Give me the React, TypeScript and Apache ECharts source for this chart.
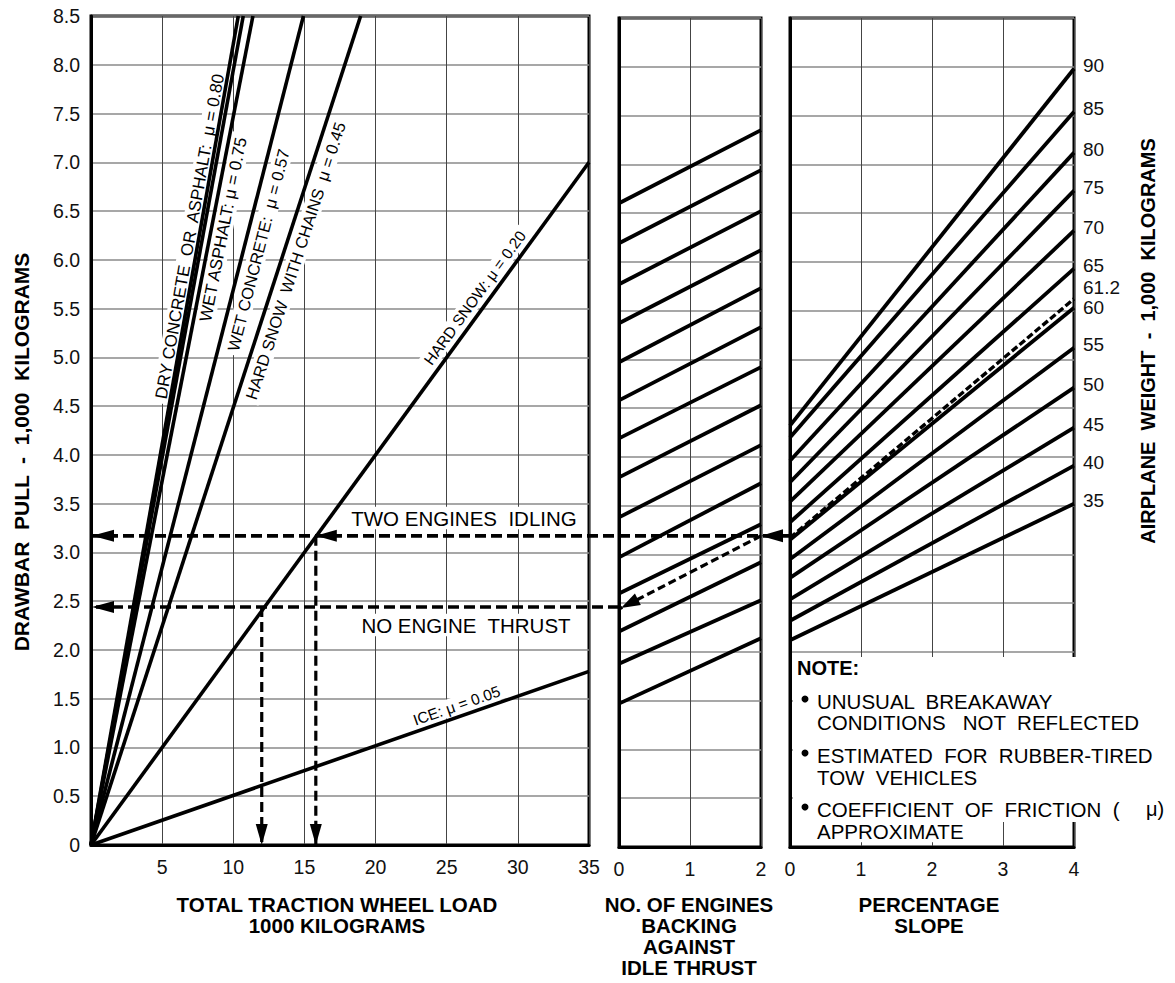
import React, { useEffect, useRef } from "react";
import * as echarts from "echarts";

const FONT = "'Liberation Sans', Arial, Helvetica, sans-serif";

// ---------- Left panel: drawbar pull (1,000 kg) vs total traction wheel load (1,000 kg) ----------
const surfaceNames = [
  "DRY CONCRETE OR ASPHALT: μ = 0.80",
  "DRY CONCRETE OR ASPHALT (edge)",
  "WET ASPHALT: μ = 0.75",
  "WET CONCRETE: μ = 0.57",
  "HARD SNOW WITH CHAINS μ = 0.45",
  "HARD SNOW: μ = 0.20",
  "ICE: μ = 0.05",
];
const surfaceEndLoad = [10.35, 10.7, 11.38, 14.93, 18.95, 35, 35];
const surfaceEndPull = [8.5, 8.5, 8.5, 8.5, 8.5, 7.0, 1.78];

// ---------- Middle panel: number of engines backing against idle thrust ----------
const engineTicks = [0, 1, 2];
const backingStart = [6.6, 6.19, 5.77, 5.37, 4.97, 4.58, 4.19, 3.79, 3.38, 2.97, 2.6, 2.21, 1.88, 1.47];
const backingEnd = [7.35, 6.94, 6.52, 6.12, 5.73, 5.33, 4.92, 4.53, 4.12, 3.73, 3.31, 2.92, 2.53, 2.14];

// ---------- Right panel: percentage slope, airplane weight (1,000 kg) ----------
const weights = [90, 85, 80, 75, 70, 65, 60, 55, 50, 45, 40, 35];
const slopeStart = [4.32, 4.2, 3.96, 3.74, 3.54, 3.33, 3.15, 2.95, 2.76, 2.54, 2.32, 2.12];
const slopeEnd = [7.98, 7.54, 7.12, 6.73, 6.32, 5.93, 5.53, 5.12, 4.71, 4.3, 3.91, 3.52];

// ---------- Worked example ----------
const exampleWeight = 61.2;
const exampleSlopeStart = 3.17;
const exampleSlopeEnd = 5.62;
const idlingPull = 3.17;
const noThrustPull = 2.44;
const idlingLoad = 15.8;
const noThrustLoad = 12.0;

// ---------- Layout (label anchors, in data coordinates of the left panel) ----------
const surfaceLabelText = [
  "DRY CONCRETE  OR  ASPHALT:  μ = 0.80",
  "",
  "WET ASPHALT: μ = 0.75",
  "WET CONCRETE:  μ = 0.57",
  "HARD SNOW  WITH CHAINS  μ = 0.45",
  "HARD SNOW: μ = 0.20",
  "ICE: μ = 0.05",
];
const labelAnchorLoad = [6.95, 0, 9.3, 11.76, 14.37, 26.97, 25.7];
const labelAnchorPull = [6.24, 0, 6.31, 6.1, 5.99, 5.61, 1.43];
const labelSize = [17, 0, 17, 16.5, 16.5, 15.5, 15.5];

export default function App() {
  const ref = useRef<HTMLDivElement>(null);

  useEffect(() => {
    const chart = echarts.init(ref.current!, null, { renderer: "svg" });

    const axisLineStyle = { color: "#000", width: 3 };
    const hSplit = { show: true, lineStyle: { color: "#8a8a8a", width: 1.5 } };
    const vSplit = { show: true, lineStyle: { color: "#444", width: 1 } };
    const tickLabel = { fontSize: 19.5, color: "#111", fontFamily: FONT };

    const gridBoxes = [
      { left: 91, top: 16, width: 498, height: 829 },
      { left: 619, top: 18, width: 142, height: 829 },
      { left: 790, top: 18, width: 284, height: 829 },
    ];
    const grid = gridBoxes.map((g) => ({ ...g, show: true, borderColor: "#000", borderWidth: 3 }));

    const xDefs = [
      { min: 0, max: 35, interval: 5, fmt: (v: number) => (v === 0 ? "" : String(v)) },
      { min: engineTicks[0], max: engineTicks[engineTicks.length - 1], interval: 1, fmt: (v: number) => String(v) },
      { min: 0, max: 4, interval: 1, fmt: (v: number) => String(v) },
    ];
    const xAxis = xDefs.map((a, i) => ({
      type: "value",
      gridIndex: i,
      min: a.min,
      max: a.max,
      interval: a.interval,
      axisLine: { show: true, onZero: false, lineStyle: axisLineStyle },
      axisTick: { show: false },
      splitLine: vSplit,
      axisLabel: { ...tickLabel, margin: 12, formatter: a.fmt, showMinLabel: true, showMaxLabel: true },
    }));
    const yAxis = [0, 1, 2].map((i) => ({
      type: "value",
      gridIndex: i,
      min: 0,
      max: 8.5,
      interval: 0.5,
      axisLine: { show: true, onZero: false, lineStyle: axisLineStyle },
      axisTick: { show: false },
      splitLine: hSplit,
      axisLabel:
        i === 0
          ? { ...tickLabel, margin: 11, formatter: (v: number) => (v === 0 ? "0" : v.toFixed(1)) }
          : { show: false },
    }));

    const series: any[] = [];
    surfaceEndLoad.forEach((x, i) => {
      series.push({
        type: "line",
        name: surfaceNames[i],
        xAxisIndex: 0,
        yAxisIndex: 0,
        data: [
          [0, 0],
          [x, surfaceEndPull[i]],
        ],
        symbol: "none",
        silent: true,
        lineStyle: { color: "#000", width: 3.6 },
      });
    });
    backingStart.forEach((s, i) => {
      series.push({
        type: "line",
        xAxisIndex: 1,
        yAxisIndex: 1,
        data: [
          [0, s],
          [2, backingEnd[i]],
        ],
        symbol: "none",
        silent: true,
        lineStyle: { color: "#000", width: 3.8 },
      });
    });
    weights.forEach((w, i) => {
      series.push({
        type: "line",
        name: String(w),
        xAxisIndex: 2,
        yAxisIndex: 2,
        data: [
          [0, slopeStart[i]],
          [4, slopeEnd[i]],
        ],
        symbol: "none",
        silent: true,
        lineStyle: { color: "#000", width: 3.8 },
        endLabel: {
          show: true,
          formatter: String(w),
          ...tickLabel,
          fontSize: 19,
          distance: 9,
          offset: [0, w === 60 ? 0 : -3],
        },
      });
    });
    series.push({
      type: "line",
      name: String(exampleWeight),
      xAxisIndex: 2,
      yAxisIndex: 2,
      data: [
        [0, exampleSlopeStart],
        [4, exampleSlopeEnd],
      ],
      symbol: "none",
      silent: true,
      z: 3,
      lineStyle: { color: "#000", width: 3.4, type: [7, 3] },
      endLabel: { show: true, formatter: String(exampleWeight), ...tickLabel, fontSize: 19, distance: 9, offset: [0, -11] },
    });

    chart.setOption({
      animation: false,
      backgroundColor: "#fff",
      grid,
      xAxis,
      yAxis,
      series,
    });

    const P = (g: number, x: number, y: number) =>
      chart.convertToPixel({ gridIndex: g } as any, [x, y]) as number[];

    const els: any[] = [];

    // labels along the friction lines
    const o = P(0, 0, 0);
    surfaceLabelText.forEach((t, i) => {
      if (!t) return;
      const e = P(0, surfaceEndLoad[i], surfaceEndPull[i]);
      const ang = Math.atan2(o[1] - e[1], e[0] - o[0]);
      const c = P(0, labelAnchorLoad[i], labelAnchorPull[i]);
      els.push({
        type: "text",
        z: 1,
        x: c[0],
        y: c[1],
        rotation: ang,
        style: {
          text: t,
          fontSize: labelSize[i],
          fontFamily: FONT,
          fill: "#000",
          align: "center",
          verticalAlign: "middle",
          backgroundColor: "#fff",
          padding: [1, 4],
        },
      });
    });

    const dash = (a: number[], b: number[], d: number[], w: number) => ({
      type: "line",
      z: 19,
      shape: { x1: a[0], y1: a[1], x2: b[0], y2: b[1] },
      style: { stroke: "#000", lineWidth: w, lineDash: d },
    });
    const arrow = (tip: number[], from: number[], len = 20, half = 5) => {
      const dx = tip[0] - from[0];
      const dy = tip[1] - from[1];
      const d = Math.hypot(dx, dy) || 1;
      const ux = dx / d;
      const uy = dy / d;
      const bx = tip[0] - ux * len;
      const by = tip[1] - uy * len;
      return {
        type: "polygon",
        z: 20,
        shape: {
          points: [
            [tip[0], tip[1]],
            [bx - uy * half, by + ux * half],
            [bx + uy * half, by - ux * half],
          ],
        },
        style: { fill: "#000" },
      };
    };

    // two engines idling path
    const yIdle = P(0, 0, idlingPull)[1];
    const rightStart = [P(2, 0, idlingPull)[0], yIdle];
    const midRight = [P(1, 2, idlingPull)[0], yIdle];
    const idleHit = [P(0, idlingLoad, idlingPull)[0], yIdle];
    const idleAxis = [P(0, 0, idlingPull)[0] + 1, yIdle];
    els.push(dash(rightStart, idleAxis, [11, 5], 3.6));
    els.push(arrow(midRight, [midRight[0] + 10, yIdle], 22, 6.5));
    els.push(arrow(idleHit, [idleHit[0] + 10, yIdle], 21, 6));
    els.push(arrow(idleAxis, [idleAxis[0] + 10, yIdle], 22, 6));
    const idleBottom = P(0, idlingLoad, 0);
    els.push(dash(idleHit, idleBottom, [10, 5], 3.2));
    els.push(arrow(idleBottom, idleHit, 21, 6));

    // diagonal in engines panel
    const midLeft = P(1, 0, noThrustPull);
    els.push(dash(midRight, midLeft, [8, 4], 3.2));
    els.push(arrow([midLeft[0] + 2, midLeft[1] - 1], midRight, 19, 6.5));

    // no engine thrust path
    const yNo = P(0, 0, noThrustPull)[1];
    const noAxis = [P(0, 0, noThrustPull)[0] + 1, yNo];
    els.push(dash([midLeft[0], yNo], noAxis, [11, 5], 3.6));
    els.push(arrow(noAxis, [noAxis[0] + 10, yNo], 22, 6));
    const noHit = [P(0, noThrustLoad, noThrustPull)[0], yNo];
    const noBottom = P(0, noThrustLoad, 0);
    els.push(dash(noHit, noBottom, [10, 5], 3.2));
    els.push(arrow(noBottom, noHit, 21, 6));

    const txt = (text: string, x: number, y: number, size: number, opts: any = {}) => ({
      type: "text",
      z: opts.z ?? 6,
      x,
      y,
      rotation: opts.rotation ?? 0,
      style: {
        text,
        fontSize: size,
        fontFamily: FONT,
        fontWeight: opts.bold ? "bold" : "normal",
        fill: "#000",
        align: opts.align ?? "center",
        verticalAlign: "middle",
        lineHeight: opts.lineHeight ?? size + 2,
        backgroundColor: opts.bg,
        padding: opts.bg ? [0, 3] : 0,
      },
    });

    els.push(txt("TWO ENGINES  IDLING", 464, 518, 20.5, { bg: "#fff", z: 1 }));
    els.push(txt("NO ENGINE  THRUST", 466, 625, 20.5, { bg: "#fff", z: 1 }));

    // axis titles
    els.push(txt("DRAWBAR  PULL  -  1,000  KILOGRAMS", 21, 452, 21, { bold: true, rotation: Math.PI / 2 }));
    els.push(txt("AIRPLANE  WEIGHT  -  1,000  KILOGRAMS", 1148, 341, 20, { bold: true, rotation: Math.PI / 2 }));
    els.push(txt("TOTAL TRACTION WHEEL LOAD\n1000 KILOGRAMS", 337, 915, 20.5, { bold: true, lineHeight: 21 }));
    els.push(txt("NO. OF ENGINES\nBACKING\nAGAINST\nIDLE THRUST", 689, 936, 20.5, { bold: true, lineHeight: 21 }));
    els.push(txt("PERCENTAGE\nSLOPE", 929, 915, 20.5, { bold: true, lineHeight: 21.5 }));

    // note box
    els.push({ type: "rect", z: 5, shape: { x: 793, y: 657, width: 382, height: 165 }, style: { fill: "#fff" } });
    els.push(txt("NOTE:", 797, 668, 20, { bold: true, align: "left" }));
    const noteLines: [string, number][] = [
      ["UNUSUAL  BREAKAWAY", 701],
      ["CONDITIONS   NOT  REFLECTED", 722],
      ["ESTIMATED  FOR  RUBBER-TIRED", 755],
      ["TOW  VEHICLES", 777],
      ["COEFFICIENT  OF  FRICTION  (", 809],
      ["APPROXIMATE", 831],
    ];
    noteLines.forEach(([t, y]) => els.push(txt(t, 814, y, 20.5, { align: "left", bg: "#fff" })));
    els.push(txt("μ)", 1146, 809, 20, { align: "left" }));
    [699, 753, 807].forEach((y) =>
      els.push({ type: "circle", z: 6, shape: { cx: 805, cy: y, r: 3.5 }, style: { fill: "#000" } })
    );

    chart.setOption({ graphic: { elements: els } });

    return () => chart.dispose();
  }, []);

  return (
    <div
      ref={ref}
      style={{ position: "absolute", left: 0, top: 0, width: 1175, height: 983, background: "#fff" }}
    />
  );
}
